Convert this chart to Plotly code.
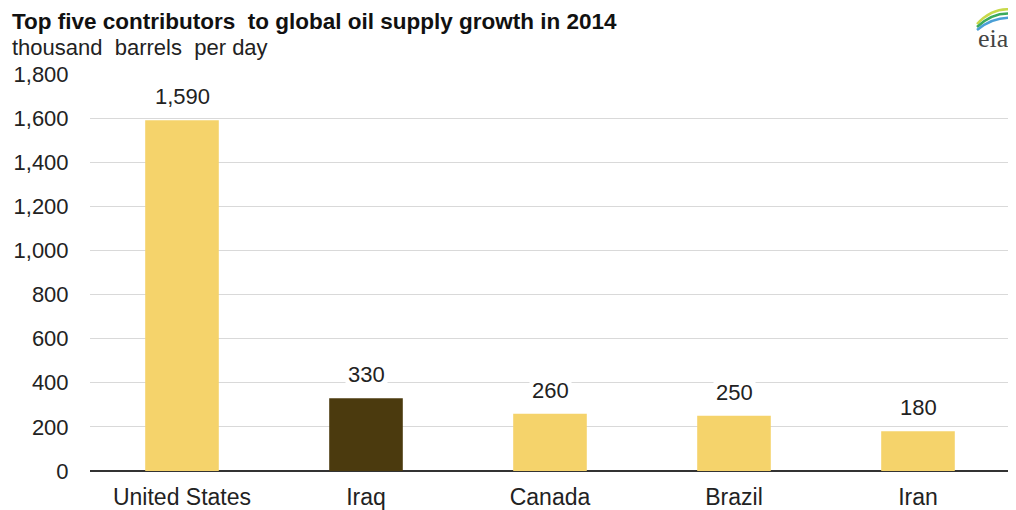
import plotly.graph_objects as go

countries = ["United States", "Iraq", "Canada", "Brazil", "Iran"]
values = [1590, 330, 260, 250, 180]
colors = ["#f5d36b", "#4b3a0e", "#f5d36b", "#f5d36b", "#f5d36b"]
tick_vals = [0, 200, 400, 600, 800, 1000, 1200, 1400, 1600, 1800]
tick_text = ["0", "200", "400", "600", "800", "1,000", "1,200", "1,400", "1,600", "1,800"]

FONT = "Liberation Sans, Arial"

fig = go.Figure()
fig.add_trace(go.Bar(x=countries, y=values, marker=dict(color=colors, line=dict(width=0)),
                     width=0.4, hoverinfo="skip"))

for c, v in zip(countries, values):
    fig.add_annotation(x=c, y=v, text=f"{v:,}", showarrow=False, yanchor="bottom", yshift=8,
                       bgcolor="white", borderpad=2,
                       font=dict(family=FONT, size=22, color="#222"))

fig.add_annotation(xref="paper", yref="paper", x=-0.087, y=1.132, xanchor="left", yanchor="middle",
                   text="<b>Top five contributors  to global oil supply growth in 2014</b>",
                   showarrow=False, font=dict(family=FONT, size=22.5, color="#111"))
fig.add_annotation(xref="paper", yref="paper", x=-0.087, y=1.0655, xanchor="left", yanchor="middle",
                   text="thousand  barrels  per day", showarrow=False,
                   font=dict(family=FONT, size=22, color="#222"))
fig.add_annotation(xref="paper", yref="paper", x=1.0015, y=1.09, xanchor="right", yanchor="middle",
                   text="eia", showarrow=False,
                   font=dict(family="Liberation Serif, serif", size=26, color="#444"))

# logo swooshes (pixel-sized, anchored at top-right of plot area)
swoosh = [("#c8d94a", "M -33 50 Q -16 68 4 64"),
          ("#3aaa5c", "M -33 47 Q -16 63 4 60"),
          ("#4a9fd6", "M -33 44 Q -16 58 4 56")]
for col, p in swoosh:
    fig.add_shape(type="path", xref="paper", yref="paper", xsizemode="pixel", ysizemode="pixel",
                  xanchor=1, yanchor=1, path=p, line=dict(color=col, width=2.5))

fig.update_layout(
    width=1008, height=502,
    margin=dict(l=82, r=6, t=66, b=39),
    paper_bgcolor="white", plot_bgcolor="white",
    showlegend=False, bargap=0.6,
    font=dict(family=FONT, size=22, color="#222"),
    xaxis=dict(showgrid=False, ticks="outside", ticklen=5, tickcolor="rgba(0,0,0,0)",
               showline=False, tickfont=dict(size=23), automargin=False),
    yaxis=dict(range=[0, 1800], tickvals=tick_vals, ticktext=tick_text,
               showgrid=True, gridcolor="#d9d9d9", gridwidth=1,
               zeroline=True, zerolinecolor="#333", zerolinewidth=2,
               ticks="outside", ticklen=16, tickcolor="rgba(0,0,0,0)",
               showline=False, tickfont=dict(size=22), automargin=False),
)

fig.write_html("out.html")
